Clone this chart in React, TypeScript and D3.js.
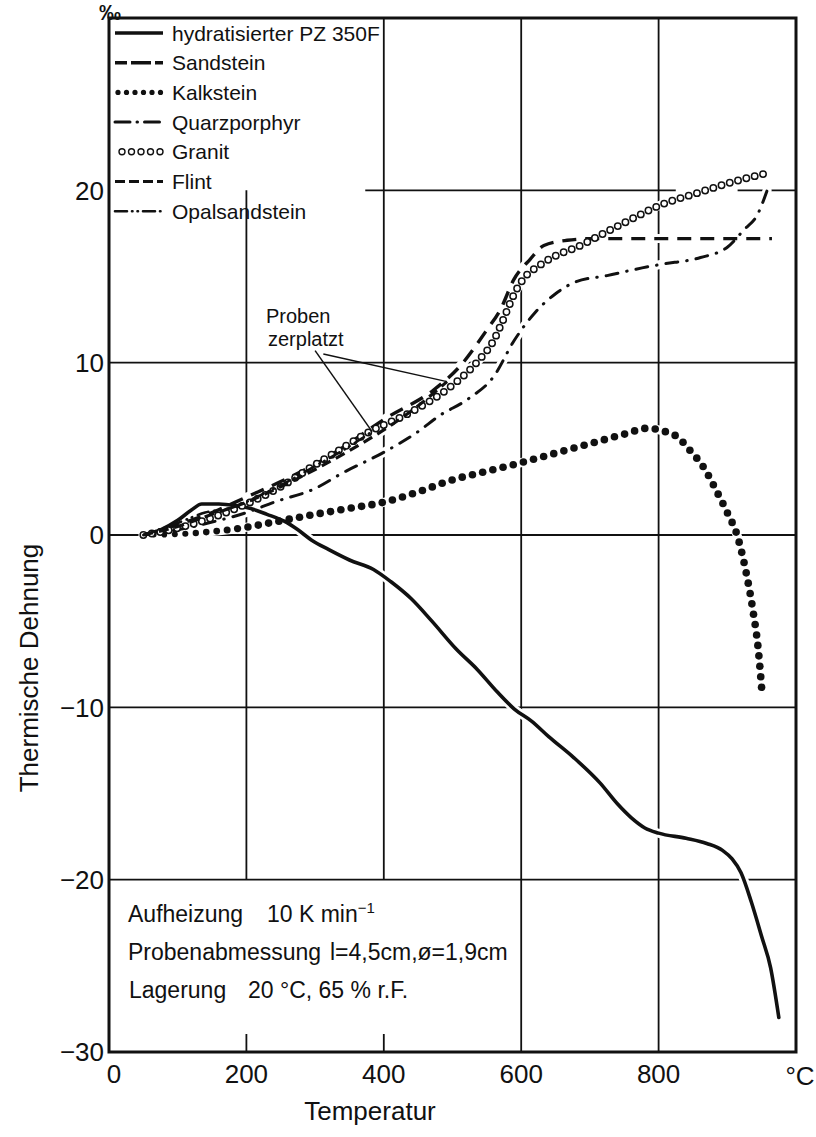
import React, { useEffect, useRef } from "react";
import * as d3 from "d3";

const W = 816;
const H = 1137;

// Axis setup
const xDomain: [number, number] = [0, 1000];
const yDomain: [number, number] = [-30, 30];
const xTicks = [0, 200, 400, 600, 800];
const yTicks = [20, 10, 0, -10, -20, -30];
const yTickLabels = ["20", "10", "0", "\u221210", "\u221220", "\u221230"];

// Thermal strain (‰) against temperature (°C)
const pz350F: [number, number][] = [
  [50, 0], [75, 0.3], [100, 0.85], [120, 1.45], [135, 1.8], [160, 1.8], [185, 1.7],
  [205, 1.55], [230, 1.2], [255, 0.8], [275, 0.3], [295, -0.3], [320, -0.85],
  [350, -1.45], [385, -2.0], [410, -2.7], [440, -3.7], [470, -5.0], [505, -6.6],
  [536, -7.8], [565, -9.1], [590, -10.1], [615, -10.8], [640, -11.7], [676, -12.9],
  [715, -14.4], [740, -15.6], [760, -16.4], [780, -17.0], [800, -17.3], [840, -17.6],
  [870, -17.9], [893, -18.3], [907, -18.8], [920, -19.6], [935, -21.3], [950, -23.3],
  [963, -25.1], [975, -28.0],
];

const sandstein: [number, number][] = [
  [50, 0], [100, 0.6], [150, 1.3], [200, 2.2], [250, 3.1], [300, 4.1], [341, 5.1],
  [404, 6.8], [472, 8.4], [511, 9.8], [550, 11.9], [570, 13.1], [589, 14.8],
  [613, 16.0], [633, 16.8], [667, 17.1], [705, 17.2], [965, 17.2],
];

const kalkstein: [number, number][] = [
  [50, 0], [100, 0.05], [150, 0.2], [200, 0.45], [240, 0.75], [300, 1.2], [350, 1.55],
  [400, 1.9], [450, 2.5], [500, 3.2], [550, 3.7], [600, 4.2], [650, 4.75], [700, 5.3],
  [750, 5.85], [785, 6.2], [805, 6.05], [827, 5.7], [846, 4.9], [866, 3.9], [885, 2.5],
  [900, 1.3], [915, -0.1], [926, -1.9], [937, -4.3], [945, -6.6], [951, -9.4],
];

const quarzporphyr: [number, number][] = [
  [50, 0], [100, 0.3], [150, 0.75], [200, 1.3], [240, 1.9], [300, 2.7], [340, 3.6],
  [400, 4.8], [450, 6.0], [480, 6.9], [523, 7.9], [560, 9.2], [590, 11.3], [620, 12.9],
  [650, 14.0], [680, 14.7], [725, 15.05], [776, 15.5], [803, 15.7], [861, 16.1],
  [900, 16.7], [924, 17.7], [944, 18.6], [958, 20.0],
];

const granit: [number, number][] = [
  [50, 0], [100, 0.4], [150, 1.0], [200, 1.8], [250, 2.8], [293, 3.9], [330, 4.8],
  [375, 5.9], [438, 7.1], [497, 8.6], [535, 10.0], [560, 11.3], [575, 12.6], [590, 14.0],
  [605, 14.95], [625, 15.6], [650, 16.2], [681, 16.7], [720, 17.5], [764, 18.4],
  [800, 19.1], [861, 19.9], [909, 20.5], [958, 21.0],
];

const flint: [number, number][] = [
  [50, 0], [100, 0.5], [150, 1.2], [200, 1.9], [250, 2.8], [300, 3.8], [350, 4.9],
  [400, 6.1], [450, 7.5], [492, 8.9],
];

const opalsandstein: [number, number][] = [
  [50, 0], [100, 0.7], [140, 1.3], [180, 1.6], [220, 2.3], [260, 3.1], [300, 4.0],
  [340, 4.9], [383, 6.0],
];

type Style = "solid" | "dash" | "bigdots" | "dashdot" | "circles" | "shortdash" | "dashdotdot";

const seriesNames = [
  "hydratisierter PZ 350F", "Sandstein", "Kalkstein", "Quarzporphyr", "Granit", "Flint", "Opalsandstein",
];
const seriesData = [pz350F, sandstein, kalkstein, quarzporphyr, granit, flint, opalsandstein];
const seriesStyles: Style[] = ["solid", "dash", "bigdots", "dashdot", "circles", "shortdash", "dashdotdot"];

// "Proben zerplatzt" leader lines: [from, to] in data units
const burstLeaders: [[number, number], [number, number]][] = [
  [[300, 10.7], [383, 6.0]],
  [[312, 10.5], [492, 8.9]],
];

const FONT = "'Liberation Sans', Arial, sans-serif";
const INK = "#111";

export default function App() {
  const ref = useRef<SVGSVGElement>(null);

  useEffect(() => {
    const svg = d3.select(ref.current!);
    svg.selectAll("*").remove();

    const x = d3.scaleLinear().domain(xDomain).range([109, 796]);
    const y = d3.scaleLinear().domain(yDomain).range([1052, 18]);

    const line = d3
      .line<[number, number]>()
      .x((d) => x(d[0]))
      .y((d) => y(d[1]))
      .curve(d3.curveMonotoneX);

    const grid = svg.append("g").attr("stroke", INK).attr("stroke-width", 1.8).attr("fill", "none");

    // horizontal grid lines
    [10, 0, -10, -20].forEach((v) => {
      grid.append("line").attr("x1", x(0)).attr("x2", x(1000)).attr("y1", y(v)).attr("y2", y(v));
    });
    grid.append("line").attr("x1", x(373)).attr("x2", x(825)).attr("y1", y(20)).attr("y2", y(20));
    grid.append("line").attr("x1", x(915)).attr("x2", x(1000)).attr("y1", y(20)).attr("y2", y(20));

    // vertical grid lines
    grid.append("line").attr("x1", x(200)).attr("x2", x(200)).attr("y1", y(20)).attr("y2", y(-20));
    grid.append("line").attr("x1", x(400)).attr("x2", x(400)).attr("y1", y(30)).attr("y2", y(-20));
    [200, 400].forEach((t) => {
      grid.append("line").attr("x1", x(t)).attr("x2", x(t)).attr("y1", y(-30)).attr("y2", y(-30) - 18);
    });
    [600, 800].forEach((t) => {
      grid.append("line").attr("x1", x(t)).attr("x2", x(t)).attr("y1", y(30)).attr("y2", y(-30));
    });

    // white halos so the grid breaks around the curves
    const halos = svg.append("g");
    seriesData.forEach((data) => {
      halos
        .append("path")
        .attr("d", line(data))
        .attr("fill", "none")
        .attr("stroke", "#fff")
        .attr("stroke-width", 9)
        .attr("stroke-linecap", "round");
    });

    const curves = svg.append("g");

    const dotsAlong = (data: [number, number][], spacing: number, draw: (px: number, py: number, s: number) => void) => {
      const p = curves.append("path").attr("d", line(data)).attr("fill", "none").attr("stroke", "none");
      const node = p.node() as SVGPathElement;
      const L = node.getTotalLength();
      for (let s = 0; s <= L; s += spacing) {
        const pt = node.getPointAtLength(s);
        draw(pt.x, pt.y, s);
      }
      p.remove();
    };

    seriesData.forEach((data, i) => {
      const st = seriesStyles[i];
      if (st === "bigdots") {
        dotsAlong(data, 10.5, (px, py, s) => {
          const r = s < 110 ? 2.6 + (1.2 * s) / 110 : 3.8;
          curves.append("circle").attr("cx", px).attr("cy", py).attr("r", r).attr("fill", INK);
        });
        return;
      }
      if (st === "circles") {
        dotsAlong(data, 8.6, (px, py) => {
          curves
            .append("circle")
            .attr("cx", px)
            .attr("cy", py)
            .attr("r", 3.2)
            .attr("fill", "#fff")
            .attr("stroke", INK)
            .attr("stroke-width", 1.5);
        });
        return;
      }
      const p = curves.append("path").attr("d", line(data)).attr("fill", "none").attr("stroke", INK);
      if (st === "solid") p.attr("stroke-width", 3.6).attr("stroke-linecap", "round");
      if (st === "dash") p.attr("stroke-width", 3.4).attr("stroke-dasharray", "14 9");
      if (st === "shortdash") p.attr("stroke-width", 3.2).attr("stroke-dasharray", "10 6");
      if (st === "dashdot")
        p.attr("stroke-width", 3).attr("stroke-linecap", "round").attr("stroke-dasharray", "12 9 0.5 9");
      if (st === "dashdotdot")
        p.attr("stroke-width", 2.6).attr("stroke-linecap", "round").attr("stroke-dasharray", "11 6 0.5 5 0.5 6");
    });

    // frame
    svg
      .append("rect")
      .attr("x", x(0))
      .attr("y", y(30))
      .attr("width", x(1000) - x(0))
      .attr("height", y(-30) - y(30))
      .attr("fill", "none")
      .attr("stroke", INK)
      .attr("stroke-width", 3);

    // tick labels
    const labels = svg.append("g").attr("font-family", FONT).attr("fill", INK);
    yTicks.forEach((v, i) => {
      labels
        .append("text")
        .attr("x", 104)
        .attr("y", y(v))
        .attr("dy", "0.36em")
        .attr("text-anchor", "end")
        .attr("font-size", 26)
        .text(yTickLabels[i]);
    });
    xTicks.forEach((t) => {
      labels
        .append("text")
        .attr("x", t === 0 ? x(t) + 5 : x(t))
        .attr("y", 1083)
        .attr("text-anchor", "middle")
        .attr("font-size", 26)
        .text(String(t));
    });
    labels.append("text").attr("x", 800).attr("y", 1085).attr("text-anchor", "middle").attr("font-size", 26).text("\u00b0C");
    labels.append("text").attr("x", 110).attr("y", 20).attr("text-anchor", "middle").attr("font-size", 22).attr("font-weight", "bold").text("\u2030");

    // axis titles
    labels
      .append("text")
      .attr("x", 370)
      .attr("y", 1120)
      .attr("text-anchor", "middle")
      .attr("font-size", 26)
      .text("Temperatur");
    labels
      .append("text")
      .attr("transform", `translate(38, 668) rotate(-90)`)
      .attr("text-anchor", "middle")
      .attr("font-size", 26)
      .text("Thermische Dehnung");

    // legend
    const lg = svg.append("g").attr("font-family", FONT).attr("font-size", 21).attr("fill", INK);
    seriesNames.forEach((name, i) => {
      const ly = 33 + i * 29.7;
      const st = seriesStyles[i];
      if (st === "bigdots") {
        d3.range(6).forEach((k) => lg.append("circle").attr("cx", 118 + k * 8.5).attr("cy", ly).attr("r", 2.6).attr("fill", INK));
      } else if (st === "circles") {
        d3.range(5).forEach((k) =>
          lg
            .append("circle")
            .attr("cx", 122 + k * 9.5)
            .attr("cy", ly)
            .attr("r", 3)
            .attr("fill", "#fff")
            .attr("stroke", INK)
            .attr("stroke-width", 1.4)
        );
      } else {
        const l = lg.append("line").attr("x1", 115).attr("x2", 163).attr("y1", ly).attr("y2", ly).attr("stroke", INK);
        if (st === "solid") l.attr("stroke-width", 3.6);
        if (st === "dash") l.attr("stroke-width", 3.4).attr("stroke-dasharray", "12 4 20 4 12");
        if (st === "shortdash") l.attr("stroke-width", 3.2).attr("stroke-dasharray", "10 4");
        if (st === "dashdot") l.attr("stroke-width", 3).attr("stroke-linecap", "round").attr("stroke-dasharray", "15 7 0.5 7");
        if (st === "dashdotdot") l.attr("stroke-width", 2.6).attr("stroke-linecap", "round").attr("stroke-dasharray", "12 5 0.5 5 0.5 5");
      }
      lg.append("text").attr("x", 172).attr("y", ly).attr("dy", "0.36em").text(name);
    });

    // burst annotation
    const ann = svg.append("g").attr("font-family", FONT).attr("fill", INK).attr("font-size", 20);
    ann.append("text").attr("x", 266).attr("y", 323).text("Proben");
    ann.append("text").attr("x", 268).attr("y", 346).text("zerplatzt");
    burstLeaders.forEach(([a, b]) => {
      ann
        .append("line")
        .attr("x1", x(a[0]))
        .attr("y1", y(a[1]))
        .attr("x2", x(b[0]))
        .attr("y2", y(b[1]))
        .attr("stroke", INK)
        .attr("stroke-width", 1.5);
    });

    // test conditions
    const cond = svg.append("g").attr("font-family", FONT).attr("fill", INK).attr("font-size", 23);
    cond.append("text").attr("x", 128).attr("y", 922).text("Aufheizung");
    const t1 = cond.append("text").attr("x", 267).attr("y", 922);
    t1.append("tspan").text("10 K min");
    t1.append("tspan").attr("dy", -9).attr("font-size", 15).text("\u22121");
    cond.append("text").attr("x", 128).attr("y", 960).text("Probenabmessung");
    cond.append("text").attr("x", 330).attr("y", 960).text("l=4,5cm,\u00f8=1,9cm");
    cond.append("text").attr("x", 129).attr("y", 998).text("Lagerung");
    cond.append("text").attr("x", 248).attr("y", 998).text("20 \u00b0C, 65 % r.F.");
  }, []);

  return (
    <svg
      ref={ref}
      width={W}
      height={H}
      viewBox={`0 0 ${W} ${H}`}
      style={{ position: "absolute", left: 0, top: 0, display: "block", background: "#fff" }}
    />
  );
}
